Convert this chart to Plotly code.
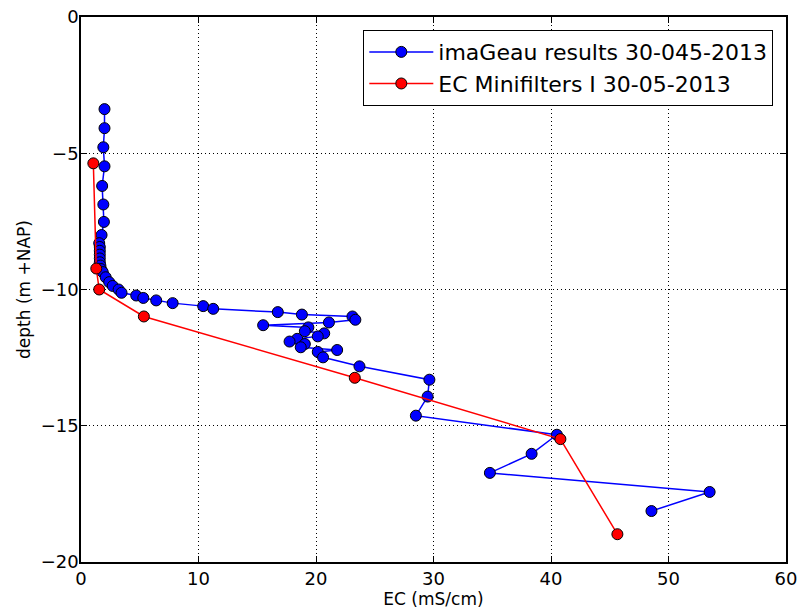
import plotly.graph_objects as go

# imaGeau results (EC in mS/cm, depth in m +NAP)
imageau_ec = [2.0, 2.0, 1.9, 2.0, 1.8, 1.9, 1.95, 1.75,
              1.55, 1.6, 1.6, 1.6, 1.6, 1.6, 1.65, 1.7,
              1.85, 2.1, 2.4, 2.7, 3.2, 3.45, 4.7, 5.3, 6.4, 7.8, 10.4, 11.25,
              16.75, 18.8, 23.1, 23.35, 21.1, 15.5, 19.35, 19.05, 20.7, 20.15,
              18.4, 17.75, 19.05, 18.7, 21.8, 20.15, 20.6, 23.7,
              29.65, 29.5, 28.5, 40.5, 38.35, 34.8, 53.5, 48.55]
imageau_depth = [-3.38, -4.08, -4.78, -5.48, -6.2, -6.88, -7.52, -8.0,
                 -8.3, -8.44, -8.58, -8.72, -8.86, -9.0, -9.12, -9.25,
                 -9.36, -9.55, -9.73, -9.87, -10.0, -10.12, -10.22, -10.31, -10.4, -10.5, -10.61, -10.71,
                 -10.83, -10.92, -10.99, -11.11, -11.21, -11.31, -11.39, -11.53, -11.61, -11.72,
                 -11.81, -11.91, -12.0, -12.12, -12.22, -12.29, -12.49, -12.82,
                 -13.31, -13.93, -14.63, -15.33, -16.03, -16.73, -17.43, -18.13]

# EC Minifilters I
mini_ec = [1.05, 1.3, 1.55, 5.35, 23.3, 40.8, 45.65]
mini_depth = [-5.37, -9.23, -10.0, -10.99, -13.24, -15.49, -18.98]

x_ticks = [0, 10, 20, 30, 40, 50, 60]
y_ticks = [0, -5, -10, -15, -20]
y_tick_labels = ["0", "\u22125", "\u221210", "\u221215", "\u221220"]

fig = go.Figure()
fig.add_trace(go.Scatter(
    x=imageau_ec, y=imageau_depth, mode="lines+markers",
    name="imaGeau results 30-045-2013",
    line=dict(color="#0000ff", width=1.5),
    marker=dict(color="#0000ff", size=11, line=dict(color="black", width=1)),
))
fig.add_trace(go.Scatter(
    x=mini_ec, y=mini_depth, mode="lines+markers",
    name="EC Minifilters I 30-05-2013",
    line=dict(color="#ff0000", width=1.5),
    marker=dict(color="#ff0000", size=11, line=dict(color="black", width=1)),
))

axis_common = dict(
    showline=True, linecolor="black", linewidth=1.5, mirror="ticks",
    ticks="inside", ticklen=6, tickwidth=1, tickcolor="black",
    showgrid=True, gridcolor="black", gridwidth=1, griddash="1px,3px",
    zeroline=False, automargin=False,
    tickfont=dict(family="DejaVu Sans", size=18, color="black"),
)

fig.update_xaxes(range=[0, 60], tickvals=x_ticks,
                 title=dict(text="EC (mS/cm)", font=dict(family="DejaVu Sans", size=17, color="black"), standoff=2),
                 ticklabelstandoff=0,
                 **axis_common)
fig.update_yaxes(range=[-20, 0], tickvals=y_ticks, ticktext=y_tick_labels,
                 title=dict(text="depth (m +NAP)", font=dict(family="DejaVu Sans", size=17, color="black"), standoff=6),
                 ticklabelstandoff=-3,
                 **axis_common)

fig.update_layout(
    width=800, height=611,
    margin=dict(l=81, r=14, t=17, b=49),
    paper_bgcolor="white", plot_bgcolor="white",
    font=dict(family="DejaVu Sans", color="black"),
    legend=dict(x=0.982, y=0.976, xanchor="right", yanchor="top",
                bordercolor="black", borderwidth=1, bgcolor="white",
                font=dict(family="DejaVu Sans", size=22, color="black"),
                itemwidth=64),
    showlegend=True,
)

fig.write_html("out.html")
